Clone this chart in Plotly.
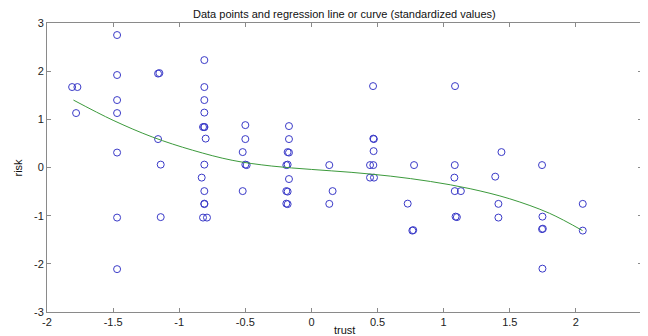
import plotly.graph_objects as go

# Data points (standardized values)
trust = [
    -1.81, -1.77, -1.78,
    -1.47, -1.47, -1.47, -1.47, -1.47, -1.47, -1.47,
    -1.16, -1.15, -1.16, -1.14, -1.14,
    -0.81, -0.81, -0.81, -0.81, -0.81, -0.82, -0.80, -0.81, -0.83, -0.81, -0.81, -0.79, -0.82, -0.81, -0.81,
    -0.50, -0.50, -0.52, -0.50, -0.49, -0.52,
    -0.17, -0.17, -0.18, -0.17, -0.19, -0.18, -0.17, -0.19, -0.18, -0.19, -0.18,
    0.135, 0.16, 0.135,
    0.466, 0.468, 0.472, 0.47, 0.443, 0.468, 0.443, 0.473,
    0.776, 0.728, 0.763, 0.77,
    1.086, 1.084, 1.081, 1.084, 1.13, 1.09, 1.10,
    1.437, 1.39, 1.414, 1.414,
    1.744, 1.747, 1.744, 1.75, 1.747,
    2.052, 2.052,
]
risk = [
    1.67, 1.67, 1.13,
    2.75, 1.92, 1.40, 1.13, 0.31, -1.04, -2.11,
    1.95, 1.96, 0.59, 0.06, -1.03,
    2.23, 1.67, 1.40, 1.14, 0.84, 0.84, 0.60, 0.06, -0.21, -0.49, -0.75, -1.04, -1.04, -0.76, 0.84,
    0.88, 0.59, 0.32, 0.06, 0.05, -0.49,
    0.86, 0.59, 0.32, 0.31, 0.05, 0.06, -0.24, -0.49, -0.50, -0.75, -0.76,
    0.05, -0.49, -0.755,
    1.69, 0.60, 0.59, 0.34, 0.05, 0.05, -0.21, -0.21,
    0.05, -0.75, -1.31, -1.30,
    1.69, 0.05, -0.21, -0.49, -0.49, -1.02, -1.03,
    0.32, -0.19, -0.755, -1.04,
    0.05, -1.02, -1.28, -1.27, -2.10,
    -0.755, -1.31,
]

# Regression curve
curve_x = [-1.8, -1.5, -1.2, -0.9, -0.6, -0.3, 0.0, 0.3, 0.6, 0.9, 1.2, 1.5, 1.8, 2.05]
curve_y = [1.40, 0.98, 0.63, 0.36, 0.15, 0.03, -0.04, -0.10, -0.18, -0.29, -0.44, -0.65, -0.95, -1.31]

x_ticks = [-2, -1.5, -1, -0.5, 0, 0.5, 1, 1.5, 2, 2.5]
x_tick_labels = ["-2", "-1.5", "-1", "-0.5", "0", "0.5", "1", "1.5", "2", "2.5"]
y_ticks = [-3, -2, -1, 0, 1, 2, 3]
y_tick_labels = ["-3", "-2", "-1", "0", "1", "2", "3"]

FONT = "Liberation Sans, Arial, sans-serif"

fig = go.Figure()
fig.add_trace(go.Scatter(
    x=trust, y=risk, mode="markers",
    marker=dict(symbol="circle-open", size=7, color="#3a3ac8", line=dict(width=1)),
    showlegend=False, cliponaxis=False,
))
fig.add_trace(go.Scatter(
    x=curve_x, y=curve_y, mode="lines", line_shape="spline",
    line=dict(color="#3c9a3c", width=1),
    showlegend=False,
))

axis_common = dict(
    showgrid=False, zeroline=False, showline=True, linecolor="#8a8a8a", linewidth=1,
    mirror="allticks", ticks="inside", ticklen=4, tickcolor="#8a8a8a",
    tickfont=dict(family=FONT, size=11, color="#222222"), automargin=False,
)

# page body has an 8px margin, so the figure is 640x328 to fill the 648x336 window
fig.update_layout(
    width=640, height=328,
    margin=dict(l=39, r=6, t=15, b=24, autoexpand=False),
    paper_bgcolor="white", plot_bgcolor="white",
    xaxis=dict(range=[-2, 2.5], tickvals=x_ticks, ticktext=x_tick_labels, **axis_common),
    yaxis=dict(range=[-3, 3], tickvals=y_ticks, ticktext=y_tick_labels, **axis_common),
    annotations=[
        dict(text="Data points and regression line or curve (standardized values)",
             x=0.5, y=1, xref="paper", yref="paper", yanchor="bottom", yshift=1,
             showarrow=False, font=dict(family=FONT, size=11, color="#111111")),
        dict(text="trust", x=0.5, y=0, xref="paper", yref="paper", yanchor="middle", yshift=-18,
             showarrow=False, font=dict(family=FONT, size=11, color="#111111")),
        dict(text="risk", x=0, y=0.5, xref="paper", yref="paper", xanchor="right", xshift=-22,
             textangle=-90, showarrow=False, font=dict(family=FONT, size=11, color="#111111")),
    ],
)

fig.write_html("out.html")
